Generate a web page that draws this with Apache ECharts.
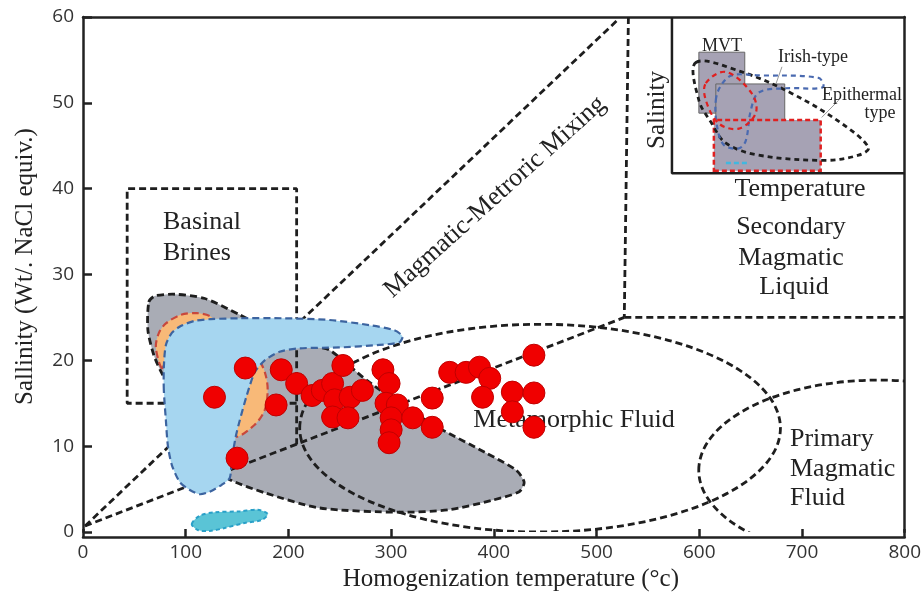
<!DOCTYPE html>
<html><head><meta charset="utf-8">
<script src="https://cdn.jsdelivr.net/npm/echarts@6/dist/echarts.min.js"></script>
<style>html,body{margin:0;padding:0;background:#fff}#c{width:924px;height:601px}</style>
</head><body><div id="c"></div>
<script>
// ---------- axis ranges / ticks ----------
const tempRange = [0, 800];
const tempStep = 100;
const salRange = [0, 60];
const salStep = 10;

// ---------- fluid-inclusion data (°C, wt% NaCl eq.) ----------
const inclusionTemp = [128,158,150,188,193,208,223,233,243,253,245,260,272,243,258,292,298,295,306,300,321,300,298,340,340,357,373,386,396,389,418,439,418,439,439];
const inclusionSal  = [15.7,19.1,8.6,14.8,18.9,17.3,15.9,16.5,17.3,19.4,15.4,15.7,16.5,13.4,13.3,18.9,17.3,15.0,14.8,13.3,13.3,11.9,10.4,15.6,12.2,18.6,18.6,19.2,17.9,15.7,16.3,16.2,14.0,12.2,20.6];

// ---------- field outlines [temp, salinity] ----------
const greyField = [[64.1,26.8],[70,27.5],[89.4,27.7],[118.6,27.2],[152.6,25.3],[191.4,22.9],[220.6,21.7],[240,21.2],[276,17.7],[317.8,14.2],[349.9,11.9],[392.6,9.2],[421.8,7.2],[429.5,5.8],[424.7,4.7],[398.4,3.7],[356.7,2.6],[308.1,2.3],[230.3,2.8],[178.8,4.5],[142.9,6.1],[113.7,8.4],[94.3,15.4],[77.7,18.3],[69,20.6],[63.2,23.5]];
const orangeLeft = [[76.8,19.1],[70.9,21.5],[73.9,23.2],[80.7,24.3],[95.2,25.3],[110.8,25.5],[124.4,25.1],[128.3,24.1],[94.3,22.9],[82.6,20.6]];
const orangeRight = [[172,19.8],[177.8,18.3],[179.8,16.5],[176.9,14.2],[167.2,12.5],[148.7,11.1],[138,13],[147.7,17.7],[162.3,19.8]];
const blueField = [[78.7,16.5],[78.7,19.2],[80.7,21.8],[86.5,23.2],[95.2,24.0],[108.8,24.6],[124.4,24.8],[152.6,24.9],[195.3,24.9],[240,24.7],[278.9,24.1],[303.2,23.5],[311,22.8],[308.1,22.1],[288.6,21.8],[249.8,21.5],[210.9,21.4],[191.4,21.0],[176.9,20.0],[167.2,18.6],[159.4,15.9],[152.6,13.0],[148.7,11.1],[144.8,8.4],[142.9,6.3],[135.1,5.5],[123.4,4.7],[113.7,4.4],[104,4.9],[94.3,5.8],[86.5,7.8],[82.6,10.1],[80.7,13.0]];
const cyanField = [[105.9,0.93],[113.7,1.9],[128.3,2.3],[152.6,2.4],[170.1,2.6],[179.8,2.1],[174,1.4],[157.4,1.05],[138,0.47],[123.4,0.12],[111.8,0.23]];

// ---------- boundary lines ----------
const basinalBox = [[208,15],[43,15],[43,40],[208,40],[208,10.2]];
const mixingUpper = [[2,0.7],[520,59.6]];
const mixingLower = [[2,0.7],[527,25]];
const secondaryLeft = [[531,60],[527,25]];
const secondaryBottom = [[527,25],[800,25]];
// ellipses: [centre temp, centre sal, radius temp, radius sal]
const metamorphicEllipse = [445,12.1,234,12.1];
const primaryEllipse = [774.5,7.2,175,10.5];

// ---------- inset ----------
const insetFrame = [[573.4,60],[573.4,41.8],[800,41.8]];
const insetBoxA = [[599.6,48.8],[644.3,48.8],[644.3,55.9],[599.6,55.9]];
const insetBoxB = [[616.1,45.8],[683.2,45.8],[683.2,52.2],[616.1,52.2]];
const insetBoxC = [[614.2,42.1],[718.2,42.1],[718.2,48.0],[614.2,48.0]];
const insetBlack = [[596.7,54.7],[641.4,53.6],[690,51.1],[738.6,47.6],[764.8,44.8],[755.1,43.9],[723,43.3],[657.9,43.9],[625.9,45.3],[612.2,47.6],[599.6,50.3]];
const insetBlue = [[616.1,50.3],[621,52.0],[631.7,53.2],[657.9,53.2],[716.2,52.9],[720.1,51.8],[684.2,51.7],[657.9,51.2],[650.1,49.1],[645.3,45.6],[638.5,44.7],[623.9,45.1],[617.1,47.4]];
const insetRed = [[606.4,52.3],[625.9,53.6],[651.1,51.1],[655,48.8],[638.5,47.0],[619,47.6],[606.4,50.3]];
const insetCyan = [[625.9,43.0],[648.2,43.0]];
const leaderIrish = [[680.5,54.2],[674.6,52.2]];
const leaderEpi = [[735.7,50.3],[719.2,48.3]];

const SERIF = '"Liberation Serif","Times New Roman",serif';
const DASH = [7,4];

function polySeries(pts, fill, stroke, dash, lw, z, smooth) {
  return {
    type: 'custom', z: z, clip: true, silent: true, animation: false,
    data: pts,
    renderItem: function (params, api) {
      if (params.dataIndex !== 0) return null;
      const points = pts.map(p => api.coord(p));
      return { type: 'polygon', shape: { points: points, smooth: smooth },
        style: { fill: fill, stroke: stroke, lineWidth: lw, lineDash: dash } };
    }
  };
}
function ellipseSeries(e, stroke, dash, lw, z) {
  return {
    type: 'custom', z: z, clip: true, silent: true, animation: false,
    data: [e],
    renderItem: function (params, api) {
      const c = api.coord([api.value(0), api.value(1)]);
      const s = api.size([api.value(2), api.value(3)]);
      return { type: 'ellipse', shape: { cx: c[0], cy: c[1], rx: s[0], ry: s[1] },
        style: { fill: null, stroke: stroke, lineWidth: lw, lineDash: dash } };
    }
  };
}
function lineSeries(pts, color, dash, lw, z) {
  return { type: 'line', data: pts, z: z, symbol: 'none', silent: true, animation: false,
    lineStyle: { color: color, width: lw, type: dash } };
}

const series = [
  polySeries(greyField, '#a9acb5', '#1e1e1e', DASH, 2.8, 1, 0.25),
  lineSeries(basinalBox, '#1e1e1e', DASH, 2.8, 2),
  lineSeries(mixingUpper, '#1e1e1e', DASH, 2.8, 2),
  lineSeries(mixingLower, '#1e1e1e', DASH, 2.8, 2),
  lineSeries(secondaryLeft, '#1e1e1e', DASH, 2.8, 2),
  lineSeries(secondaryBottom, '#1e1e1e', DASH, 2.8, 2),
  ellipseSeries(metamorphicEllipse, '#1e1e1e', DASH, 2.8, 2),
  ellipseSeries(primaryEllipse, '#1e1e1e', DASH, 2.8, 2),
  polySeries(orangeLeft, '#f8b978', '#c8483c', DASH, 2.2, 3, 0.3),
  polySeries(orangeRight, '#f8b978', '#c8483c', DASH, 2.2, 3, 0.3),
  polySeries(blueField, '#a6d6f0', '#3c64a0', DASH, 2.2, 4, 0.25),
  polySeries(cyanField, '#5ac4d6', '#2aa0c8', [4,3], 2, 4, 0.3),
  // inset
  polySeries(insetBoxA, '#a6a2b4', '#666', null, 1, 5, 0),
  polySeries(insetBoxB, '#a6a2b4', '#666', null, 1, 5, 0),
  polySeries(insetBoxC, '#a6a2b4', '#e02020', [5,3], 2.5, 5, 0),
  polySeries(insetBlack, null, '#1e1e1e', [5,4], 2.8, 6, 0.35),
  polySeries(insetBlue, null, '#4a6ab0', [5,4], 2.2, 6, 0.35),
  polySeries(insetRed, null, '#e02020', [5,4], 2.2, 6, 0.35),
  lineSeries(insetCyan, '#40b8e0', [5,3], 2.5, 6),
  lineSeries(leaderIrish, '#999', 'solid', 1, 6),
  lineSeries(leaderEpi, '#999', 'solid', 1, 6),
  lineSeries(insetFrame, '#1e1e1e', 'solid', 2.5, 7),
  {
    type: 'scatter', z: 10, animation: false,
    data: inclusionTemp.map((t, i) => [t, inclusionSal[i]]),
    symbolSize: 22,
    itemStyle: { color: '#f00000', borderColor: '#c00000', borderWidth: 1, opacity: 1 }
  }
];

function txt(s, x, y, size, align, extra) {
  return Object.assign({ type: 'text', x: x, y: y, z: 8, silent: true,
    style: { text: s, font: size + 'px ' + SERIF, fill: '#222', align: align || 'center', verticalAlign: 'middle' } }, extra || {});
}

const graphics = [
  txt('Basinal', 163, 222, 26, 'left'),
  txt('Brines', 163, 253, 26, 'left'),
  txt('Magmatic-Metroric Mixing', 495, 197, 26, 'center', { rotation: 42 * Math.PI / 180 }),
  txt('Temperature', 800, 189, 26),
  txt('Secondary', 791, 227, 26),
  txt('Magmatic', 791, 258, 26),
  txt('Liquid', 794, 287, 26),
  txt('Metamorphic Fluid', 574, 420, 26),
  txt('Primary', 790, 439, 26, 'left'),
  txt('Magmatic', 790, 469, 26, 'left'),
  txt('Fluid', 790, 498, 26, 'left'),
  txt('Salinity', 657, 110, 25, 'center', { rotation: Math.PI / 2 }),
  txt('MVT', 722, 46, 18, 'center', { z: 4 }),
  txt('Irish-type', 778, 57, 18, 'left'),
  txt('Epithermal', 822, 95, 18, 'left'),
  txt('type', 880, 113, 18, 'center')
];

const axisLineStyle = { color: '#222', width: 2.5 };
const option = {
  animation: false,
  backgroundColor: '#fff',
  grid: { left: 83, right: 18, top: 17, bottom: 69, containLabel: false },
  xAxis: [{
    type: 'value', min: tempRange[0], max: tempRange[1], interval: tempStep,
    position: 'bottom', offset: 5,
    axisLine: { show: true, onZero: false, lineStyle: axisLineStyle },
    axisTick: { show: true, inside: true, length: 8, lineStyle: axisLineStyle },
    axisLabel: { color: '#333', fontSize: 19, fontFamily: '"Open Sans", sans-serif', margin: 6 },
    splitLine: { show: false },
    name: 'Homogenization temperature (°c)', nameLocation: 'middle', nameGap: 28,
    nameTextStyle: { fontFamily: SERIF, fontSize: 25, color: '#222', padding: [0, 0, 0, 34] }
  }, {
    type: 'value', min: tempRange[0], max: tempRange[1], position: 'top',
    axisLine: { show: true, onZero: false, lineStyle: axisLineStyle },
    axisTick: { show: false }, axisLabel: { show: false }, splitLine: { show: false }
  }],
  yAxis: [{
    type: 'value', min: salRange[0], max: salRange[1], interval: salStep,
    position: 'left',
    axisLine: { show: true, onZero: false, lineStyle: axisLineStyle },
    axisTick: { show: true, inside: true, length: 9, lineStyle: axisLineStyle },
    axisLabel: { color: '#333', fontSize: 19, fontFamily: '"Open Sans", sans-serif', margin: 9 },
    splitLine: { show: false },
    name: 'Sallinity (Wt/. NaCl equiv.)', nameLocation: 'middle', nameGap: 45,
    nameTextStyle: { fontFamily: SERIF, fontSize: 25, color: '#222', padding: [0, 0, 0, 16] }
  }, {
    type: 'value', min: salRange[0], max: salRange[1], position: 'right',
    axisLine: { show: true, onZero: false, lineStyle: axisLineStyle },
    axisTick: { show: false }, axisLabel: { show: false }, splitLine: { show: false }
  }],
  graphic: { elements: graphics },
  series: series
};

const chart = echarts.init(document.getElementById('c'));
chart.setOption(option);
</script></body></html>
